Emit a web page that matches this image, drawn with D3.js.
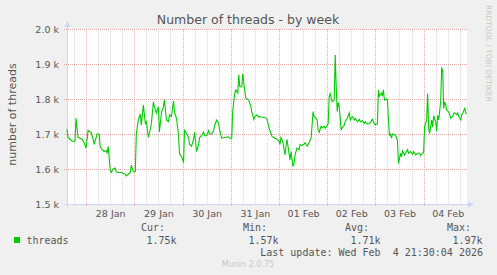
<!DOCTYPE html>
<html>
<head>
<meta charset="utf-8">
<script src="https://cdn.jsdelivr.net/npm/d3@7"></script>
<style>
  html, body { margin: 0; padding: 0; background: #f0f0f0; }
  svg { display: block; }
</style>
</head>
<body>
<div id="chart"></div>
<script>
// hours since 27 Jan 2026 00:00 (UTC) and thread counts
var hours = [14.5, 15, 16, 17, 18, 18.5, 19, 20, 21, 22, 23, 24, 25, 26, 26.5, 27.5, 28, 28.5, 29.5, 30.5,
  31, 32, 33, 34, 34.5, 35, 36, 36.5, 37.5, 38.5, 39, 40, 41.5, 43.5, 44, 45, 46, 46.5, 47.5, 48.5,
  49, 50, 51, 51.5, 52.5, 53.5, 54, 55, 56, 56.5, 57.5, 58, 59, 60, 60.5, 61.5, 62.5, 63, 64, 65,
  65.5, 66.5, 67.5, 68, 69, 70, 70.5, 72, 72.5, 73, 74, 75, 75.5, 76.5, 77.5, 78, 79, 80, 80.5, 81.5,
  82.5, 83, 84, 85, 85.5, 86.5, 87.5, 88, 89, 90, 90.5, 91.5, 93, 95, 95.5, 96.5, 97, 98, 98.5, 99.5,
  100, 100.5, 101.5, 102, 102.5, 103.5, 104, 105, 106, 106.5, 107.5, 108, 109, 110, 110.5, 111.5, 113, 114, 115, 115.5,
  116.5, 117.5, 118, 119, 120, 120.5, 121, 122, 123, 123.5, 124, 125, 125.5, 126, 127, 127.5, 128, 129, 130, 130.5,
  131.5, 132.5, 133, 134, 135, 135.5, 136, 137, 137.5, 138, 139, 139.5, 140, 141, 141.5, 142.5, 143, 144, 144.5, 145,
  145.5, 146.5, 147.5, 148, 148.5, 149, 149.5, 150, 151, 151.5, 152.5, 153, 154, 155, 155.5, 156.5, 157.5, 158, 159, 160,
  160.5, 161.5, 162.5, 163, 164, 165, 165.5, 166.5, 167.5, 168, 169, 169.5, 170, 171, 171.5, 172, 172.5, 173.5, 174, 174.5,
  175, 175.5, 176, 176.5, 177.5, 178, 178.5, 179, 179.5, 180.5, 181, 181.5, 182.5, 183, 184, 184.5, 185.5, 186.5, 187, 188,
  189, 190, 190.5, 191.5, 192, 192.5, 193.5, 194, 194.5, 195, 196, 196.5, 197, 198, 198.5, 199, 199.5, 200.5, 201, 201.5,
  202, 202.5, 203, 203.5, 204.5, 205, 205.5, 206.5, 207, 207.5, 208.5, 209, 209.5, 210.5, 211, 211.5, 212.5, 213, 213.5];

var threads = [1714, 1690, 1685, 1680, 1678, 1682, 1745, 1690, 1688, 1685, 1675, 1660, 1710, 1706, 1705, 1685, 1670, 1680, 1700, 1700,
  1665, 1655, 1650, 1653, 1645, 1665, 1597, 1590, 1600, 1603, 1592, 1590, 1590, 1585, 1580, 1585, 1590, 1611, 1592, 1592,
  1700, 1740, 1757, 1725, 1783, 1730, 1735, 1690, 1715, 1730, 1792, 1778, 1760, 1778, 1706, 1760, 1778, 1797, 1740, 1735,
  1755, 1750, 1795, 1762, 1745, 1697, 1645, 1630, 1618, 1710, 1702, 1690, 1670, 1665, 1685, 1705, 1650, 1670, 1690, 1695,
  1705, 1695, 1695, 1710, 1700, 1700, 1710, 1725, 1740, 1730, 1710, 1688, 1690, 1692, 1688, 1688, 1768, 1816, 1826, 1817,
  1869, 1835, 1835, 1873, 1845, 1802, 1800, 1797, 1778, 1763, 1742, 1750, 1755, 1748, 1750, 1748, 1748, 1743, 1719, 1710,
  1693, 1690, 1688, 1686, 1680, 1670, 1690, 1676, 1640, 1665, 1685, 1645, 1626, 1650, 1607, 1615, 1640, 1660, 1655, 1670,
  1667, 1671, 1675, 1665, 1675, 1683, 1688, 1764, 1750, 1748, 1740, 1711, 1705, 1722, 1718, 1722, 1716, 1724, 1730, 1807,
  1815, 1792, 1797, 1926, 1835, 1764, 1790, 1778, 1711, 1718, 1725, 1736, 1745, 1760, 1740, 1750, 1740, 1745, 1735, 1742,
  1735, 1738, 1730, 1735, 1728, 1730, 1732, 1742, 1729, 1726, 1729, 1826, 1808, 1817, 1808, 1826, 1797, 1800, 1797, 1740,
  1697, 1700, 1688, 1700, 1697, 1697, 1690, 1680, 1616, 1645, 1635, 1652, 1640, 1645, 1655, 1645, 1650, 1642, 1650, 1640,
  1645, 1645, 1638, 1645, 1648, 1721, 1740, 1816, 1716, 1702, 1740, 1720, 1752, 1735, 1708, 1753, 1740, 1792, 1888, 1883,
  1773, 1792, 1783, 1768, 1763, 1755, 1745, 1750, 1760, 1760, 1755, 1760, 1750, 1740, 1755, 1760, 1773, 1760, 1758];

var yTicks = [1500, 1600, 1700, 1800, 1900, 2000];
var dayTicks = ["2026-01-28", "2026-01-29", "2026-01-30", "2026-01-31", "2026-02-01", "2026-02-02", "2026-02-03", "2026-02-04"];
var legendHeads = ["Cur:", "Min:", "Avg:", "Max:"];
var legendValues = ["1.75k", "1.57k", "1.71k", "1.97k"];

var W = 497, H = 275;
var pLeft = 67, pRight = 467, pTop = 29, pBottom = 204;
var base = Date.UTC(2026, 0, 27);
var t0 = new Date(Date.UTC(2026, 0, 27, 14, 30)), t1 = new Date(Date.UTC(2026, 1, 4, 21, 36));

var svg = d3.select("#chart").append("svg").attr("width", W).attr("height", H);
svg.append("rect").attr("width", W).attr("height", H).attr("fill", "#f0f0f0");
svg.append("rect").attr("x", pLeft).attr("y", pTop).attr("width", pRight - pLeft).attr("height", pBottom - pTop).attr("fill", "#fff");

var x = d3.scaleUtc().domain([t0, t1]).range([pLeft, pRight]);
var y = d3.scaleLinear().domain([1500, 2000]).range([pBottom, pTop]);

// minor grid, every 6 hours
svg.append("g").selectAll("line")
  .data(d3.utcHour.every(6).range(t0, t1).filter(function (d) { return d.getUTCHours() != 0; }))
  .enter().append("line")
  .attr("x1", function (d) { return Math.round(x(d)) + 0.5; })
  .attr("x2", function (d) { return Math.round(x(d)) + 0.5; })
  .attr("y1", pTop).attr("y2", pBottom)
  .attr("stroke", "#d8d8d8").attr("stroke-dasharray", "1,1");

// major grid, midnights and hundreds
svg.append("g").selectAll("line")
  .data(d3.utcDay.range(t0, t1))
  .enter().append("line")
  .attr("x1", function (d) { return Math.round(x(d)) + 0.5; })
  .attr("x2", function (d) { return Math.round(x(d)) + 0.5; })
  .attr("y1", pTop).attr("y2", pBottom + 3)
  .attr("stroke", "#e4a8a8").attr("stroke-dasharray", "1,1");
svg.append("g").selectAll("line")
  .data(yTicks.slice(1))
  .enter().append("line")
  .attr("x1", pLeft - 3).attr("x2", pRight)
  .attr("y1", function (d) { return Math.round(y(d)) + 0.5; })
  .attr("y2", function (d) { return Math.round(y(d)) + 0.5; })
  .attr("stroke", "#e4a8a8").attr("stroke-dasharray", "1,1");

// axes lines with arrows
var axisCol = "#cfd6f8";
svg.append("line").attr("x1", pLeft + 0.5).attr("x2", pLeft + 0.5).attr("y1", pBottom + 3).attr("y2", 24).attr("stroke", axisCol);
svg.append("path").attr("d", "M" + (pLeft - 2.5) + ",27 L" + (pLeft + 0.5) + ",21 L" + (pLeft + 3.5) + ",27 Z").attr("fill", axisCol);
svg.append("line").attr("x1", pLeft - 3).attr("x2", 470).attr("y1", pBottom + 0.5).attr("y2", pBottom + 0.5).attr("stroke", axisCol);
svg.append("path").attr("d", "M468," + (pBottom - 2.5) + " L474," + (pBottom + 0.5) + " L468," + (pBottom + 3.5) + " Z").attr("fill", axisCol);

// data line
var line = d3.line()
  .x(function (d, i) { return x(new Date(base + hours[i] * 3600e3)); })
  .y(function (d) { return y(d); });
svg.append("path").datum(threads)
  .attr("d", line).attr("fill", "none")
  .attr("stroke", "#00cc00").attr("stroke-width", 1.1);

// y labels
var yAxis = d3.axisLeft(y).tickValues(yTicks).tickSize(0).tickPadding(8)
  .tickFormat(function (d) { return (d / 1000).toFixed(1) + " k"; });
var gy = svg.append("g").attr("transform", "translate(" + pLeft + ",0)").call(yAxis);
gy.select(".domain").remove();
gy.selectAll("text").attr("font-family", "DejaVu Sans").attr("font-size", "9.5px").attr("fill", "#555");

// x labels centred on noon
var xAxis = d3.axisBottom(x)
  .tickValues(dayTicks.map(function (s) { return new Date(s + "T12:00:00Z"); }))
  .tickSize(0).tickPadding(6)
  .tickFormat(d3.utcFormat("%d %b"));
var gx = svg.append("g").attr("transform", "translate(0," + pBottom + ")").call(xAxis);
gx.select(".domain").remove();
gx.selectAll("text").attr("font-family", "DejaVu Sans").attr("font-size", "9.5px").attr("fill", "#555");

// title and side texts
svg.append("text").attr("x", 248).attr("y", 23.5).attr("text-anchor", "middle")
  .attr("font-family", "DejaVu Sans").attr("font-size", "12.5px").attr("fill", "#555")
  .text("Number of threads - by week");
svg.append("text").attr("transform", "translate(15.5,114.5) rotate(-90)").attr("text-anchor", "middle")
  .attr("font-family", "DejaVu Sans").attr("font-size", "11px").attr("fill", "#555")
  .text("number of threads");
svg.append("text").attr("transform", "translate(485.5,5) rotate(90)")
  .attr("font-family", "DejaVu Sans").attr("font-size", "7.5px").attr("fill", "#c8c8c8")
  .text("RRDTOOL / TOBI OETIKER");

// legend
var mono = "DejaVu Sans Mono";
svg.append("rect").attr("x", 14).attr("y", 237).attr("width", 6).attr("height", 6).attr("fill", "#00cc00");
svg.append("text").attr("x", 26.5).attr("y", 243.5).attr("font-family", mono).attr("font-size", "10px").attr("fill", "#555").text("threads");
legendHeads.forEach(function (h, i) {
  svg.append("text").attr("x", 141 + i * 102).attr("y", 231).attr("font-family", mono).attr("font-size", "10px").attr("fill", "#555").text(h);
  svg.append("text").attr("x", 176.5 + i * 102).attr("y", 243.5).attr("text-anchor", "end")
    .attr("font-family", mono).attr("font-size", "10px").attr("fill", "#555").text(legendValues[i]);
});
svg.append("text").attr("x", 483).attr("y", 255.5).attr("text-anchor", "end")
  .style("white-space", "pre")
  .attr("font-family", mono).attr("font-size", "10px").attr("fill", "#555").text("Last update: Wed Feb  4 21:30:04 2026");
svg.append("text").attr("x", 248).attr("y", 267).attr("text-anchor", "middle")
  .attr("font-family", "DejaVu Sans").attr("font-size", "8px").attr("fill", "#c8c8c8").text("Munin 2.0.75");
</script>
</body>
</html>
